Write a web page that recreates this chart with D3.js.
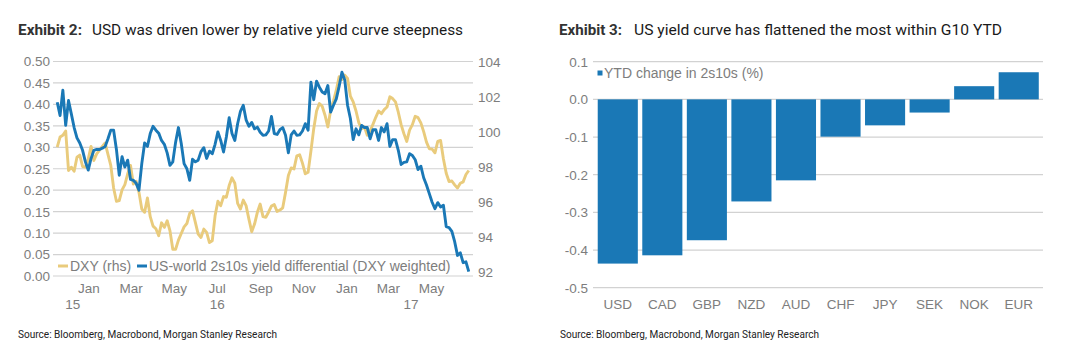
<!DOCTYPE html>
<html><head><meta charset="utf-8">
<script src="https://cdn.jsdelivr.net/npm/d3@7"></script>
<style>body{margin:0;background:#fff;} svg{display:block;}</style>
</head><body>
<svg id="c" width="1074" height="356"></svg>
<script>
// ---------- data: Exhibit 2 ----------
const seriesStart = "2015-12-02";   // first observation
const seriesStepDays = 4;           // observation spacing (days)
const usWorld2s10s = [
0.405,0.374,0.433,0.351,0.409,0.378,0.346,0.322,0.310,0.293,
0.266,0.247,0.274,0.293,0.295,0.295,0.298,0.302,0.320,0.340,
0.340,0.295,0.235,0.278,0.254,0.270,0.225,0.223,0.216,0.200,
0.262,0.310,0.302,0.332,0.349,0.340,0.333,0.316,0.307,0.287,
0.258,0.266,0.312,0.346,0.309,0.262,0.250,0.223,0.272,0.266,
0.270,0.290,0.299,0.274,0.291,0.285,0.307,0.336,0.316,0.289,
0.324,0.369,0.332,0.316,0.355,0.384,0.398,0.364,0.349,0.358,
0.343,0.347,0.335,0.328,0.329,0.338,0.372,0.332,0.330,0.341,
0.346,0.328,0.287,0.329,0.338,0.328,0.329,0.338,0.355,0.340,
0.452,0.411,0.454,0.440,0.429,0.425,0.444,0.382,0.398,0.413,
0.442,0.475,0.457,0.398,0.367,0.318,0.343,0.329,0.351,0.346,
0.346,0.320,0.341,0.341,0.316,0.346,0.336,0.355,0.302,0.318,
0.318,0.293,0.260,0.265,0.266,0.285,0.281,0.271,0.248,0.256,
0.229,0.212,0.192,0.172,0.157,0.171,0.161,0.165,0.115,0.113,
0.104,0.080,0.048,0.054,0.031,0.033,0.010];
const dxy = [
99.14,99.71,99.81,100.06,97.80,97.99,97.76,98.56,98.68,98.03,
97.99,98.45,99.18,98.37,98.75,98.97,99.18,99.37,98.72,98.09,
96.80,96.04,96.08,96.69,96.99,97.61,98.09,97.03,97.19,96.55,
95.60,95.41,96.23,95.16,94.62,94.47,94.07,94.81,94.55,94.93,
94.35,93.30,93.30,93.82,94.20,94.58,94.77,95.35,95.50,94.83,
94.16,93.97,94.45,94.26,93.68,93.78,95.21,96.04,95.79,96.31,
96.27,96.94,97.38,97.07,95.92,95.60,96.11,95.79,95.02,94.30,
94.74,95.41,95.88,95.16,95.12,95.43,95.77,95.85,95.46,95.54,
95.67,96.55,97.51,97.95,97.89,98.64,98.70,98.22,97.61,97.70,
98.91,100.19,101.20,101.63,101.47,100.96,100.29,101.24,101.78,102.39,
103.16,103.00,103.25,103.06,102.05,101.72,101.20,100.52,100.19,100.29,
99.81,100.06,100.44,100.84,101.20,101.05,101.28,101.43,102.01,101.91,
101.72,101.13,100.42,99.90,99.46,100.11,100.42,100.90,100.82,100.52,
100.02,99.42,99.04,99.02,98.81,99.46,99.52,98.47,97.64,97.17,
97.20,96.98,96.80,97.07,97.15,97.57,97.80];
const leftTicks = [0,0.05,0.10,0.15,0.20,0.25,0.30,0.35,0.40,0.45,0.50];
const rightTicks = [92,94,96,98,100,102,104];
const yearLabels = ["15","16","17"];
const yearLabelDates = ["2015-12-24","2016-07-16","2017-04-17"];
const legend2 = ["DXY (rhs)","US-world 2s10s yield differential (DXY weighted)"];

// ---------- data: Exhibit 3 ----------
const currencies = ["USD","CAD","GBP","NZD","AUD","CHF","JPY","SEK","NOK","EUR"];
const ytdChange2s10s = [-0.436,-0.414,-0.374,-0.271,-0.215,-0.099,-0.069,-0.035,0.035,0.072];
const barTicks = [0.1,0,-0.1,-0.2,-0.3,-0.4,-0.5];
const legend3 = "YTD change in 2s10s (%)";
const sourceText = "Source: Bloomberg, Macrobond, Morgan Stanley Research";

// ---------- styles ----------
const BLUE = "#1a78b6", GOLD = "#e9cb7c", GRID = "#d2d2d2", TICK = "#7d7d7d";
const FONT = "'Liberation Sans', Arial, sans-serif";
const TFONT = "Roboto, 'Liberation Sans', sans-serif";

const svg = d3.select("#c");
svg.append("rect").attr("width",1074).attr("height",356).attr("fill","#fff");

function title(x, boldTxt, boldLen, restTxt, restX, restLen){
  svg.append("text").attr("x",x).attr("y",35).attr("font-family",TFONT)
    .attr("font-size",15.5).attr("font-weight","bold").attr("fill","#333")
    .attr("textLength",boldLen).attr("lengthAdjust","spacingAndGlyphs").text(boldTxt);
  svg.append("text").attr("x",restX).attr("y",35).attr("font-family",TFONT)
    .attr("font-size",15.5).attr("fill","#1a1a1a")
    .attr("textLength",restLen).attr("lengthAdjust","spacingAndGlyphs").text(restTxt);
}
title(18,"Exhibit 2:",64,"USD was driven lower by relative yield curve steepness",92,371);
title(559,"Exhibit 3:",63,"US yield curve has flattened the most within G10 YTD",634,368);

function source(x){
  svg.append("text").attr("x",x).attr("y",338).attr("font-family",TFONT)
    .attr("font-size",11).attr("fill","#222")
    .attr("textLength",259).attr("lengthAdjust","spacingAndGlyphs").text(sourceText);
}
source(18); source(560);

// ---------- Exhibit 2 ----------
const parse = d3.timeParse("%Y-%m-%d");
const t0 = parse(seriesStart);
const dates = usWorld2s10s.map((_,i)=>d3.timeDay.offset(t0, i*seriesStepDays));
const x2 = d3.scaleTime().domain([parse("2015-11-26"), parse("2017-07-14")]).range([53,473]);
const yL = d3.scaleLinear().domain([0,0.5]).range([276,61.5]);
const yR = d3.scaleLinear().domain([91.77,104.03]).range([276,61.5]);

const g2 = svg.append("g");
g2.selectAll("line.grid").data(leftTicks).join("line")
  .attr("x1",53).attr("x2",473).attr("y1",d=>yL(d)).attr("y2",d=>yL(d))
  .attr("stroke",GRID).attr("stroke-width",1.2);
g2.selectAll("text.yl").data(leftTicks).join("text")
  .attr("x",50).attr("y",d=>yL(d)).attr("dy","0.36em").attr("text-anchor","end")
  .attr("font-family",FONT).attr("font-size",13.5).attr("fill",TICK)
  .text(d=>d.toFixed(2));
g2.selectAll("text.yr").data(rightTicks).join("text")
  .attr("x",478).attr("y",d=>yR(d)).attr("dy","0.36em").attr("text-anchor","start")
  .attr("font-family",FONT).attr("font-size",13.5).attr("fill",TICK)
  .text(d=>d);

const [d0,d1] = x2.domain();
const monthTicks = d3.timeMonth.every(2).range(d0,d1)
  .filter(m => d3.timeDay.offset(m,15) <= d1);
g2.selectAll("text.mt").data(monthTicks).join("text")
  .attr("x",d=>x2(d3.timeDay.offset(d,15))).attr("y",293).attr("text-anchor","middle")
  .attr("font-family",FONT).attr("font-size",13.5).attr("fill",TICK)
  .text(d3.timeFormat("%b"));
g2.selectAll("text.yt").data(yearLabels).join("text")
  .attr("x",(d,i)=>x2(parse(yearLabelDates[i]))).attr("y",309).attr("text-anchor","middle")
  .attr("font-family",FONT).attr("font-size",13.5).attr("fill",TICK).text(d=>d);

const lineR = d3.line().x((d,i)=>x2(dates[i])).y(d=>yR(d)).curve(d3.curveLinear);
const lineL = d3.line().x((d,i)=>x2(dates[i])).y(d=>yL(d)).curve(d3.curveLinear);
g2.append("path").attr("d",lineR(dxy)).attr("fill","none").attr("stroke",GOLD)
  .attr("stroke-width",2.9).attr("stroke-linejoin","round");
g2.append("path").attr("d",lineL(usWorld2s10s)).attr("fill","none").attr("stroke",BLUE)
  .attr("stroke-width",2.9).attr("stroke-linejoin","round");

// legend
const lg = g2.append("g");
const legColors = [GOLD, BLUE];
const legX = [58, 137];
legend2.forEach((t,i)=>{
  lg.append("line").attr("x1",legX[i]).attr("x2",legX[i]+10).attr("y1",266).attr("y2",266)
    .attr("stroke",legColors[i]).attr("stroke-width",3);
  lg.append("text").attr("x",legX[i]+12).attr("y",266).attr("dy","0.36em")
    .attr("font-family",FONT).attr("font-size",14).attr("fill",TICK).text(t);
});

// ---------- Exhibit 3 ----------
const x3 = d3.scaleBand().domain(currencies).range([595.5,1041]).paddingInner(0.1).paddingOuter(0.05);
const y3 = d3.scaleLinear().domain([-0.5,0.1]).range([287.7,61.7]);
const g3 = svg.append("g");
g3.selectAll("line").data(barTicks).join("line")
  .attr("x1",593).attr("x2",1043).attr("y1",d=>y3(d)).attr("y2",d=>y3(d))
  .attr("stroke",GRID).attr("stroke-width",1.2);
g3.selectAll("text.yt").data(barTicks).join("text")
  .attr("x",588).attr("y",d=>y3(d)).attr("dy","0.36em").attr("text-anchor","end")
  .attr("font-family",FONT).attr("font-size",13.5).attr("fill",TICK)
  .text(d=>d.toFixed(1));
g3.selectAll("rect.bar").data(currencies).join("rect")
  .attr("x",d=>x3(d)).attr("width",x3.bandwidth())
  .attr("y",(d,i)=>y3(Math.max(0,ytdChange2s10s[i])))
  .attr("height",(d,i)=>Math.abs(y3(ytdChange2s10s[i])-y3(0)))
  .attr("fill",BLUE);
g3.selectAll("text.xl").data(currencies).join("text")
  .attr("x",d=>x3(d)+x3.bandwidth()/2).attr("y",309).attr("text-anchor","middle")
  .attr("font-family",FONT).attr("font-size",13.5).attr("fill",TICK).text(d=>d);
g3.append("rect").attr("x",597.5).attr("y",70.5).attr("width",5).attr("height",5).attr("fill",BLUE);
g3.append("text").attr("x",604).attr("y",73.3).attr("dy","0.36em")
  .attr("font-family",FONT).attr("font-size",14).attr("fill",TICK).text(legend3);
</script>
</body></html>
